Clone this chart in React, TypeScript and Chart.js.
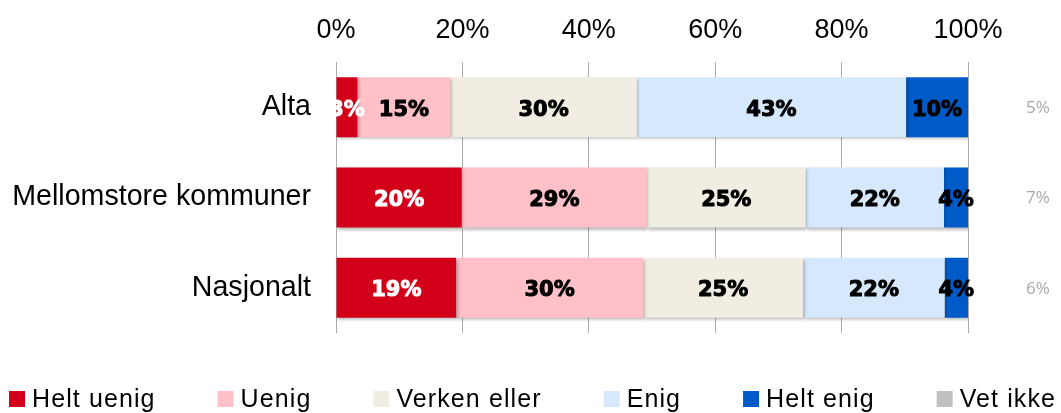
import React, { useEffect, useRef } from 'react';
import { Chart, registerables } from 'chart.js';

Chart.register(...registerables);

const categories = ['Alta', 'Mellomstore kommuner', 'Nasjonalt'];
const seriesNames = ['Helt uenig', 'Uenig', 'Verken eller', 'Enig', 'Helt enig'];
const heltUenig = [3.4, 19.9, 19.0];
const uenig = [14.7, 29.3, 29.6];
const verkenEller = [29.5, 25.1, 25.3];
const enig = [42.6, 21.9, 22.4];
const heltEnig = [9.8, 3.8, 3.7];
const vetIkkeName = 'Vet ikke';
const vetIkke = [5, 7, 6];
const xTicks = [0, 20, 40, 60, 80, 100];

const seriesColors = ['#D20019', '#FFC0C8', '#F1EDE3', '#D6E8FB', '#005BC8'];
const vetIkkeColor = '#C0C0C0';
const labelColors = ['#FFFFFF', '#000000', '#000000', '#000000', '#000000'];

const W = 1061;
const H = 413;

const customPlugin = {
  id: 'customDraw',
  beforeDatasetsDraw(chart: any) {
    const ctx = chart.ctx;
    ctx.save();
    ctx.shadowColor = 'rgba(0,0,0,0.28)';
    ctx.shadowBlur = 3;
    ctx.shadowOffsetX = 1.5;
    ctx.shadowOffsetY = 2;
  },
  afterDatasetsDraw(chart: any) {
    const ctx = chart.ctx;
    ctx.restore();
    const area = chart.chartArea;

    // value labels inside bars
    ctx.save();
    ctx.beginPath();
    ctx.rect(area.left, 0, chart.width - area.left, chart.height);
    ctx.clip();
    ctx.font = 'bold 21px "DejaVu Sans"';
    ctx.textAlign = 'center';
    ctx.textBaseline = 'middle';
    ctx.lineWidth = 1;
    ctx.lineJoin = 'round';
    chart.data.datasets.forEach((ds: any, i: number) => {
      const meta = chart.getDatasetMeta(i);
      meta.data.forEach((bar: any, j: number) => {
        const p = bar.getProps(['x', 'y', 'base'], true);
        const cx = (p.x + p.base) / 2;
        const txt = Math.round(ds.data[j]) + '%';
        ctx.fillStyle = labelColors[i];
        ctx.strokeStyle = labelColors[i];
        ctx.fillText(txt, cx, p.y + 3);
        ctx.strokeText(txt, cx, p.y + 3);
      });
    });
    ctx.restore();

    // "Vet ikke" values at the right
    ctx.save();
    ctx.font = '17px "Open Sans"';
    ctx.fillStyle = '#A8A8A8';
    ctx.textAlign = 'center';
    ctx.textBaseline = 'middle';
    const yScale = chart.scales.y;
    vetIkke.forEach((v, j) => {
      const y = yScale.getPixelForValue(j);
      ctx.fillText(v + '%', area.right + 70, y + 1);
    });
    ctx.restore();

    // legend
    ctx.save();
    const names = [...seriesNames, vetIkkeName];
    const cols = [...seriesColors, vetIkkeColor];
    ctx.font = '25px "Liberation Sans"';
    (ctx as any).letterSpacing = '1.1px';
    const box = 16;
    const boxGap = 7;
    const itemGap = 62;
    const widths = names.map((n) => ctx.measureText(n).width);
    const total = widths.reduce((a, w) => a + box + boxGap + w, 0) + itemGap * (names.length - 1);
    let x = (chart.width - total) / 2 + 2;
    const ly = 399;
    ctx.textBaseline = 'middle';
    ctx.textAlign = 'left';
    names.forEach((n, i) => {
      ctx.fillStyle = cols[i];
      ctx.fillRect(x, ly - box / 2, box, box);
      ctx.fillStyle = '#000000';
      ctx.fillText(n, x + box + boxGap, ly + 1);
      x += box + boxGap + widths[i] + itemGap;
    });
    ctx.restore();
  },
};

export default function App() {
  const canvasRef = useRef<HTMLCanvasElement | null>(null);

  useEffect(() => {
    if (!canvasRef.current) return;
    const seriesData = [heltUenig, uenig, verkenEller, enig, heltEnig];
    const chart = new Chart(canvasRef.current, {
      type: 'bar',
      data: {
        labels: categories,
        datasets: seriesNames.map((name, i) => ({
          label: name,
          data: seriesData[i],
          backgroundColor: seriesColors[i],
          borderWidth: 0,
          categoryPercentage: 1,
          barPercentage: 0.665,
        })),
      },
      options: {
        indexAxis: 'y',
        responsive: false,
        animation: false,
        devicePixelRatio: 1,
        layout: { padding: { left: 0, right: 93, top: 0, bottom: 80 } },
        plugins: {
          legend: { display: false },
          tooltip: { enabled: false },
          title: { display: false },
        },
        scales: {
          x: {
            position: 'top',
            stacked: true,
            min: 0,
            max: 100,
            afterBuildTicks: (scale: any) => {
              scale.ticks = xTicks.map((v) => ({ value: v }));
            },
            afterFit: (scale: any) => {
              scale.height = 62;
            },
            grid: {
              color: '#ABABAB',
              lineWidth: 1,
              drawTicks: false,
            },
            border: { display: false },
            ticks: {
              padding: 15,
              color: '#000000',
              font: { family: '"Liberation Sans"', size: 27 },
              callback: (v: any) => v + '%',
              maxRotation: 0,
              autoSkip: false,
            },
          },
          y: {
            stacked: true,
            afterFit: (scale: any) => {
              scale.width = 336;
            },
            grid: { display: false, drawTicks: false },
            border: { display: false },
            ticks: {
              padding: 25,
              color: '#000000',
              font: { family: '"Liberation Sans"', size: 28.6 },
            },
          },
        },
      },
      plugins: [customPlugin],
    } as any);
    return () => chart.destroy();
  }, []);

  return (
    <div style={{ position: 'fixed', left: 0, top: 0, width: W, height: H, background: '#ffffff' }}>
      <canvas ref={canvasRef} width={W} height={H} style={{ width: W, height: H, display: 'block' }} />
    </div>
  );
}
